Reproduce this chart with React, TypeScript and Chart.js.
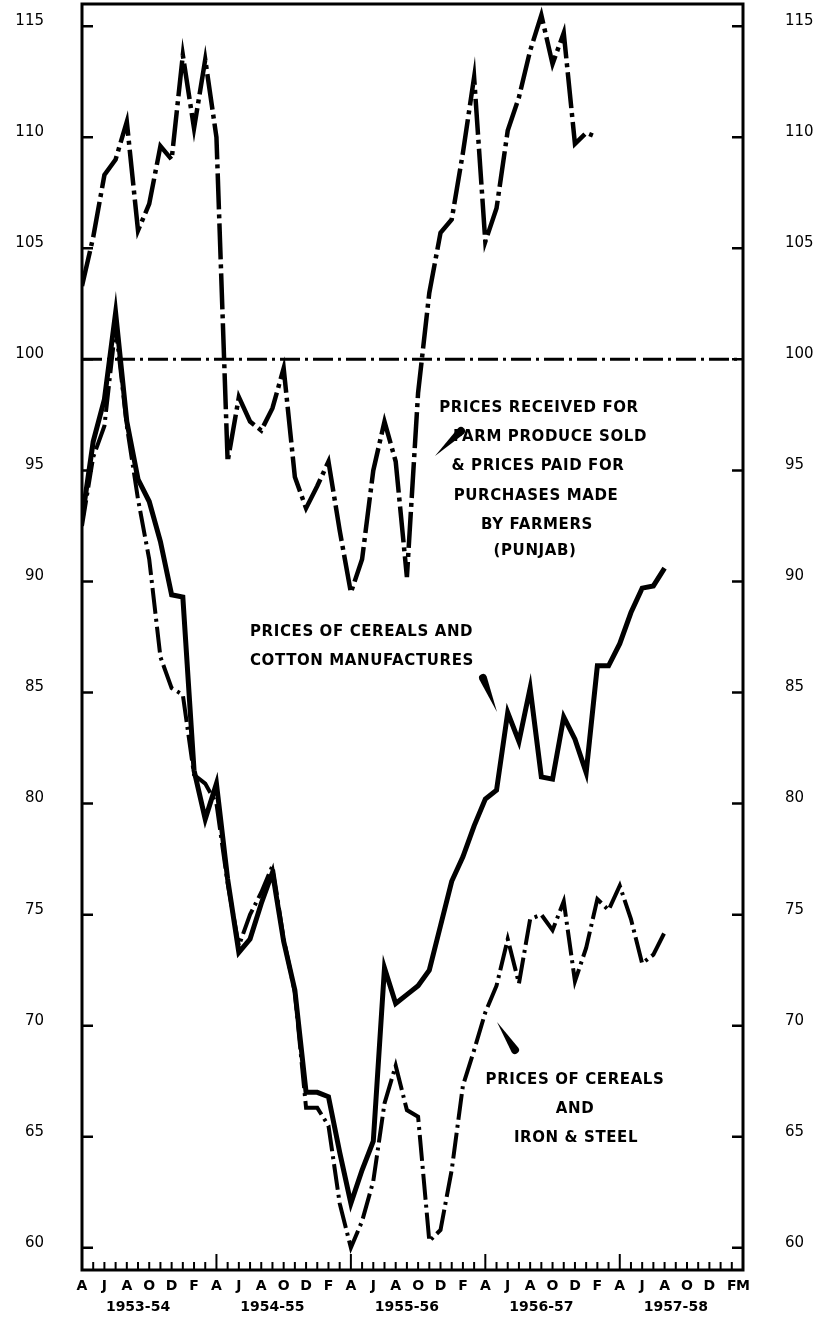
import { useEffect, useRef } from "react";
import { Chart, registerables } from "chart.js";

Chart.register(...registerables);

// Months from April 1953 (index 0) to March 1958 (index 59)
const monthLetters = ["A", "", "J", "", "A", "", "O", "", "D", "", "F", "M"];
const yearLabels = ["1953-54", "1954-55", "1955-56", "1956-57", "1957-58"];
const monthCount = 60;
const yTicks = [60, 65, 70, 75, 80, 85, 90, 95, 100, 105, 110, 115];
const baseValue = 100;

// Prices received for farm produce sold & prices paid for purchases made by farmers (Punjab)
const punjabRatio = [
  103.3, 105.5, 108.3, 109.0, 110.7, 105.8, 107.0, 109.6, 109.0, 113.7, 110.4, 113.5,
  110.0, 95.4, 98.3, 97.2, 96.8, 97.8, 99.6, 94.7, 93.3, 94.3, 95.4, 92.3,
  89.5, 91.0, 95.0, 97.2, 95.4, 90.2, 98.5, 103.0, 105.7, 106.3, 109.3, 112.7,
  105.3, 106.8, 110.3, 111.8, 113.9, 115.5, 113.3, 114.7, 109.7, 110.2, 110.0,
];

// Prices of cereals and cotton manufactures
const cerealsCotton = [
  92.8, 96.3, 98.2, 102.1, 97.2, 94.6, 93.6, 91.8, 89.4, 89.3, 81.5, 79.3,
  80.9, 76.6, 73.3, 73.9, 75.5, 76.9, 73.8, 71.6, 67.0, 67.0, 66.8, 64.3,
  62.0, 63.5, 64.8, 72.6, 71.0, 71.4, 71.8, 72.5, 74.5, 76.5, 77.6, 79.0,
  80.2, 80.6, 84.1, 82.8, 85.2, 81.2, 81.1, 83.9, 82.9, 81.4, 86.2, 86.2,
  87.2, 88.6, 89.7, 89.8, 90.6,
];

// Prices of cereals and iron & steel
const cerealsIron = [
  92.5, 95.6, 97.0, 101.5, 97.0, 93.7, 91.0, 86.6, 85.2, 84.9, 81.3, 80.9,
  80.0, 76.4, 73.6, 75.0, 76.0, 77.2, 73.9, 71.5, 66.3, 66.3, 65.5, 62.0,
  60.0, 61.2, 63.0, 66.5, 68.2, 66.2, 65.9, 60.3, 60.8, 63.5, 67.3, 68.9,
  70.6, 71.8, 73.9, 71.9, 74.8, 75.0, 74.3, 75.6, 72.0, 73.5, 75.7, 75.2,
  76.3, 74.8, 72.8, 73.2, 74.2,
];

const noteFont = 'bold 15px "DejaVu Sans"';

function xLabel(m: number): string | string[] {
  let letter = m % 2 === 0 ? monthLetters[m % 12] : "";
  if (m === monthCount - 1) letter = monthLetters[11];
  if (m % 12 === 5) return ["", yearLabels[Math.floor(m / 12)]];
  return letter;
}

const decoPlugin = {
  id: "deco",
  afterDraw(chart: any) {
    const { ctx, chartArea: a, scales } = chart;
    ctx.save();
    ctx.strokeStyle = "#000";
    ctx.fillStyle = "#000";
    // frame
    ctx.lineWidth = 3;
    ctx.strokeRect(a.left, a.top, a.right - a.left, a.bottom - a.top);
    // inward y ticks
    ctx.lineWidth = 2.5;
    for (const v of yTicks) {
      const y = scales.y.getPixelForValue(v);
      ctx.beginPath();
      ctx.moveTo(a.left, y);
      ctx.lineTo(a.left + 11, y);
      ctx.moveTo(a.right - 11, y);
      ctx.lineTo(a.right, y);
      ctx.stroke();
    }
    // inward month ticks
    ctx.lineWidth = 2;
    for (let m = 0; m < monthCount; m++) {
      const x = scales.x.getPixelForValue(m);
      const len = m % 12 === 0 ? 16 : 8;
      ctx.beginPath();
      ctx.moveTo(x, a.bottom);
      ctx.lineTo(x, a.bottom - len);
      ctx.stroke();
    }
    // annotations
    ctx.font = noteFont;
    (ctx as any).letterSpacing = "0.6px";
    ctx.textBaseline = "middle";
    ctx.textAlign = "center";
    const punjabNote: [string, number, number][] = [
      ["PRICES RECEIVED FOR", 539, 408],
      ["FARM PRODUCE SOLD", 550, 437],
      ["& PRICES PAID FOR", 538, 466],
      ["PURCHASES MADE", 536, 496],
      ["BY FARMERS", 537, 525],
      ["(PUNJAB)", 535, 551],
    ];
    for (const [t, x, y] of punjabNote) ctx.fillText(t, x, y);
    ctx.textAlign = "left";
    ctx.fillText("PRICES OF CEREALS AND", 250, 632);
    ctx.fillText("COTTON MANUFACTURES", 250, 661);
    ctx.textAlign = "center";
    ctx.fillText("PRICES OF CEREALS", 575, 1080);
    ctx.fillText("AND", 575, 1109);
    ctx.fillText("IRON & STEEL", 576, 1138);
    // pointer wedges
    const wedge = (tx: number, ty: number, bx: number, by: number, hw: number) => {
      const dx = bx - tx, dy = by - ty;
      const len = Math.hypot(dx, dy);
      const nx = -dy / len, ny = dx / len;
      ctx.beginPath();
      ctx.moveTo(tx, ty);
      ctx.lineTo(bx + nx * hw, by + ny * hw);
      ctx.arc(bx, by, hw, Math.atan2(ny, nx), Math.atan2(-ny, -nx), true);
      ctx.closePath();
      ctx.fill();
    };
    wedge(435, 456, 461, 431, 4);
    wedge(497, 712, 483, 678, 4);
    wedge(497, 1022, 515, 1050, 4);
    ctx.restore();
  },
};

export default function App() {
  const ref = useRef<HTMLCanvasElement>(null);
  useEffect(() => {
    const canvas = ref.current;
    if (!canvas) return;
    const toXY = (vals: number[]) => vals.map((v, i) => ({ x: i, y: v }));
    const monthIdx = Array.from({ length: monthCount }, (_, i) => i);
    const yAxis = (position: "left" | "right", pad: number, width: number) => ({
      type: "linear" as const,
      position,
      min: 59,
      max: 116,
      afterBuildTicks: (s: any) => {
        s.ticks = yTicks.map((v) => ({ value: v }));
      },
      afterFit: (s: any) => {
        s.width = width;
        s.paddingTop = 0;
        s.paddingBottom = 0;
      },
      ticks: {
        padding: pad,
        labelOffset: -5,
        color: "#000",
        font: { family: "DejaVu Sans", size: 15, weight: "normal" as const },
      },
      grid: { display: false, drawTicks: false },
      border: { display: false },
    });
    const chart = new Chart(canvas, {
      type: "line",
      data: {
        datasets: [
          {
            label: "Base 100",
            data: [
              { x: 0, y: baseValue },
              { x: monthCount - 1, y: baseValue },
            ],
            borderColor: "#000",
            borderWidth: 3,
            borderDash: [20, 5, 3, 5],
            pointRadius: 0,
          },
          {
            label: "Punjab",
            data: toXY(punjabRatio),
            borderColor: "#000",
            borderWidth: 4.5,
            borderDash: [36, 5, 4, 5],
            pointRadius: 0,
            tension: 0,
          },
          {
            label: "Cereals & cotton manufactures",
            data: toXY(cerealsCotton),
            borderColor: "#000",
            borderWidth: 5,
            pointRadius: 0,
            tension: 0,
          },
          {
            label: "Cereals & iron & steel",
            data: toXY(cerealsIron),
            borderColor: "#000",
            borderWidth: 4,
            borderDash: [26, 5, 3, 5],
            pointRadius: 0,
            tension: 0,
          },
        ],
      },
      options: {
        animation: false,
        responsive: false,
        layout: { padding: { top: 4, left: 0, right: 0, bottom: 0 } },
        plugins: { legend: { display: false }, tooltip: { enabled: false } },
        scales: {
          x: {
            type: "linear",
            min: 0,
            max: monthCount - 1,
            afterBuildTicks: (s: any) => {
              s.ticks = monthIdx.map((v) => ({ value: v }));
            },
            afterFit: (s: any) => {
              s.height = 53;
              s.paddingLeft = 0;
              s.paddingRight = 0;
            },
            ticks: {
              autoSkip: false,
              maxRotation: 0,
              minRotation: 0,
              padding: 6,
              color: "#000",
              font: { family: "DejaVu Sans", size: 14, weight: "bold", lineHeight: 1.5 },
              callback: (v: any) => xLabel(Number(v)),
            },
            grid: { display: false, drawTicks: false },
            border: { display: false },
          },
          y: yAxis("left", 38, 82),
          y2: yAxis("right", 42, 89),
        },
      },
      plugins: [decoPlugin],
    });
    return () => chart.destroy();
  }, []);
  return (
    <div style={{ position: "absolute", left: 0, top: 0, width: 832, height: 1323, background: "#fff" }}>
      <canvas ref={ref} width={832} height={1323} />
    </div>
  );
}
